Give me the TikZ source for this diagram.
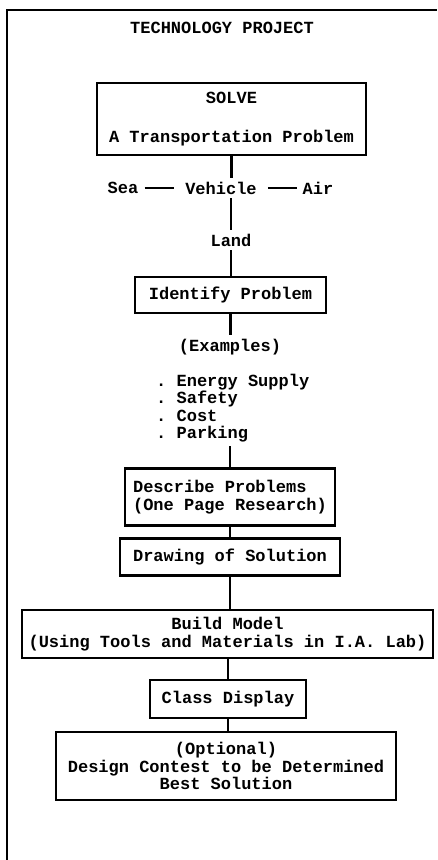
\documentclass[tikz,border=0pt]{standalone}
\usepackage{fontspec}
\setmonofont{Liberation Mono}
\usetikzlibrary{positioning}

\begin{document}
\begin{tikzpicture}[x=1pt,y=-1pt,
  every node/.style={font=\ttfamily\bfseries\fontsize{17}{17.3}\selectfont},
  box/.style={draw, line width=2.8pt, inner sep=0pt, align=center},
  word/.style={inner sep=4pt},
  link/.style={line width=2.4pt}]
  \useasboundingbox (0,0) rectangle (437,860);

  % Frame
  \draw[line width=1.6pt] (7,860) -- (7,10) -- (437,10);

  % Title
  \node (title) at (222,28) {TECHNOLOGY PROJECT};

  % Problem
  \node[box, minimum width=269pt, minimum height=72pt] (solve) at (231.5,119)
    {SOLVE\\[22pt]A Transportation Problem};

  % Vehicle choices
  \node[word, inner xsep=11pt] (vehicle) at (221,188) {Vehicle};
  \node[word, inner xsep=6pt] (sea) at (123,188) {Sea};
  \node[word, inner xsep=6pt] (air) at (318,188) {Air};
  \node[word] (land) at (231,240) {Land};
  \draw[link] (solve.south) -- (solve.south |- vehicle.north);
  \draw[link] (sea.east) -- (vehicle.west);
  \draw[link] (vehicle.east) -- (air.west);
  \draw[link] (land.north |- vehicle.south) -- (land.north);

  % Identify
  \node[box, minimum width=191pt, minimum height=36pt] (identify) at (230.5,295) {Identify Problem};
  \draw[link] (land.south) -- (land.south |- identify.north);

  % Examples
  \node[word] (examples) at (230,347) {(Examples)};
  \draw[link] (identify.south) -- (identify.south |- examples.north);
  \node[word, anchor=west, align=left] (list) at (152,408)
    {. Energy Supply\\. Safety\\. Cost\\. Parking};

  % Describe
  \node[box, minimum width=210pt, minimum height=57pt, align=left] (describe) at (230,497)
    {Describe Problems\\ (One Page Research)};
  \draw[link] (describe.north) -- (describe.north |- list.south);

  % Drawing
  \node[box, minimum width=220pt, minimum height=37pt] (drawing) at (230,557) {Drawing of Solution};
  \draw[link] (describe.south) -- (describe.south |- drawing.north);

  % Model
  \node[box, minimum width=411pt, minimum height=48pt] (build) at (227.5,634)
    {Build Model\\(Using Tools and Materials in I.A. Lab)};
  \draw[link] (drawing.south) -- (drawing.south |- build.north);

  % Display
  \node[box, minimum width=156pt, minimum height=38pt] (display) at (228,699) {Class Display};
  \draw[link] (build.south -| display.north) -- (display.north);

  % Contest
  \node[box, minimum width=340pt, minimum height=68pt] (contest) at (226,766)
    {(Optional)\\Design Contest to be Determined\\Best Solution};
  \draw[link] (display.south) -- (display.south |- contest.north);
\end{tikzpicture}
\end{document}
